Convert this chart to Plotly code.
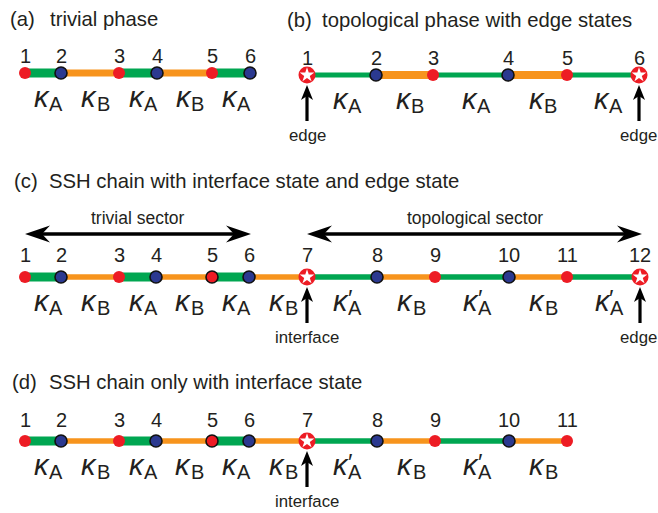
import plotly.graph_objects as go

W, H = 658, 513

# ---------------- data ----------------
# panel (a) trivial phase
a_x = [25, 61, 119, 157, 212, 250]
a_y = 73
a_num_y = 55.5
a_sites = ["R", "B", "R", "B", "R", "B"]
a_bonds = ["A", "B", "A", "B", "A"]
a_widths = {"A": 9, "B": 7}

# panel (b) topological phase
b_x = [307, 376, 433, 508, 567, 639]
b_y = 75
b_num_y = 57.5
b_sites = ["S", "B", "R", "B", "R", "S"]
b_bonds = ["A", "B", "A", "B", "A"]
b_widths = {"A": 5, "B": 8}

# panel (c) interface + edge
c_x = [25, 61, 119, 156, 212, 249, 307, 377, 435, 509, 567, 640]
c_y = 277
c_num_y = 255
c_sites = ["R", "B", "R", "B", "Ro", "B", "S", "B", "R", "B", "R", "S"]
c_bonds = ["A", "B", "A", "B", "A", "B", "Ap", "B", "Ap", "B", "Ap"]
c_widths = {"A": 9, "B": 5.5, "Ap": 5.5}

# panel (d) interface only
d_x = [25, 61, 119, 156, 212, 249, 307, 377, 435, 509, 567]
d_y = 441
d_num_y = 420
d_sites = ["R", "B", "R", "B", "Ro", "B", "S", "B", "R", "B", "R"]
d_bonds = ["A", "B", "A", "B", "A", "B", "Ap", "B", "Ap", "B"]
d_widths = {"A": 9, "B": 5.5, "Ap": 5.5}

# panel titles: (letter, letter_x, text, text_x, y)
titles = [
    ("(a)", 8, "trivial phase", 48, 19),
    ("(b)", 285, "topological phase with edge states", 320, 19.5),
    ("(c)", 12, "SSH chain with interface state and edge state", 47, 181),
    ("(d)", 10, "SSH chain only with interface state", 47, 382),
]

# pointer arrows: (panel, site index, label)
pointers = [("b", 0, "edge"), ("b", 5, "edge"),
            ("c", 6, "interface"), ("c", 11, "edge"),
            ("d", 6, "interface")]

# sector arrows: (label, first site, last site)
sectors = [("trivial sector", 0, 5), ("topological sector", 6, 11)]
sector_y = 234
sector_label_y = 217.5

# ---------------- style ----------------
GREEN = "#00A651"
ORANGE = "#F7941D"
RED = "#ED1C24"
BLUE = "#2B3990"
TXT = "#231F20"
SANS = "Liberation Sans, Arial, sans-serif"

panels = {
    "a": (a_x, a_y, a_num_y, a_sites, a_bonds, a_widths),
    "b": (b_x, b_y, b_num_y, b_sites, b_bonds, b_widths),
    "c": (c_x, c_y, c_num_y, c_sites, c_bonds, c_widths),
    "d": (d_x, d_y, d_num_y, d_sites, d_bonds, d_widths),
}

fig = go.Figure()
ann = []
shapes = []

def arrow_head(tx, ty, dx, dy, L, Wd, notch):
    # tip at (tx,ty), direction (dx,dy) unit vector pointing toward tip
    px, py = -dy, dx
    bx, by = tx - dx * L, ty - dy * L
    nx, ny = tx - dx * notch, ty - dy * notch
    p1 = (bx + px * Wd / 2, by + py * Wd / 2)
    p2 = (bx - px * Wd / 2, by - py * Wd / 2)
    return (f"M {tx},{ty} L {p1[0]},{p1[1]} L {nx},{ny} "
            f"L {p2[0]},{p2[1]} Z")

for key, (xs, cy, ny, sites, bonds, widths) in panels.items():
    # bonds
    for i, bt in enumerate(bonds):
        col = GREEN if bt in ("A", "Ap") else ORANGE
        fig.add_trace(go.Scatter(x=[xs[i], xs[i + 1]], y=[cy, cy], mode="lines",
                                 line=dict(color=col, width=widths[bt]),
                                 hoverinfo="skip", showlegend=False))
    # sites
    for typ in ["R", "B", "Ro", "S"]:
        sx = [x for x, t in zip(xs, sites) if t == typ]
        if not sx:
            continue
        sy = [cy] * len(sx)
        if typ == "R":
            m = dict(size=12, color=RED, line=dict(width=0))
        elif typ == "B":
            m = dict(size=12, color=BLUE, line=dict(width=1.6, color="#111"))
        elif typ == "Ro":
            m = dict(size=12, color=RED, line=dict(width=1.6, color="#111"))
        else:
            m = dict(size=17, color=RED, line=dict(width=0))
        fig.add_trace(go.Scatter(x=sx, y=sy, mode="markers", marker=m,
                                 hoverinfo="skip", showlegend=False))
        if typ == "S":
            fig.add_trace(go.Scatter(x=sx, y=sy, mode="markers",
                                     marker=dict(symbol="star", size=11, color="white",
                                                 line=dict(width=0)),
                                     hoverinfo="skip", showlegend=False))
    # site numbers
    for i, x in enumerate(xs):
        ann.append(dict(x=x, y=ny, text=str(i + 1), showarrow=False,
                        xanchor="center", yanchor="middle",
                        font=dict(family=SANS, size=20, color=TXT)))
    # coupling labels
    for i, bt in enumerate(bonds):
        mid = (xs[i] + xs[i + 1]) / 2
        sub = "B" if bt == "B" else "A"
        ann.append(dict(x=mid - 1, y=cy + 23.5, text="<i>κ</i>", showarrow=False,
                        xanchor="center", yanchor="middle",
                        font=dict(family=SANS, size=29, color=TXT)))
        ann.append(dict(x=mid + 13, y=cy + 31, text=sub, showarrow=False,
                        xanchor="center", yanchor="middle",
                        font=dict(family=SANS, size=20, color=TXT)))
        if bt == "Ap":
            ann.append(dict(x=mid + 8, y=cy + 21, text="′", showarrow=False,
                            xanchor="center", yanchor="middle",
                            font=dict(family=SANS, size=24, color=TXT)))

# titles
for letter, lx, text, tx, ty in titles:
    ann.append(dict(x=lx, y=ty, text=letter, showarrow=False, xanchor="left",
                    yanchor="middle", font=dict(family=SANS, size=20.3, color=TXT)))
    ann.append(dict(x=tx, y=ty, text=text, showarrow=False, xanchor="left",
                    yanchor="middle", font=dict(family=SANS, size=20.3, color=TXT)))

# pointer arrows
for key, idx, label in pointers:
    xs, cy = panels[key][0], panels[key][1]
    x = xs[idx]
    tip = cy + 10
    base = cy + 46
    shapes.append(dict(type="line", x0=x, x1=x, y0=tip + 8, y1=base,
                       line=dict(color="black", width=3.2), xref="x", yref="y"))
    shapes.append(dict(type="path", path=arrow_head(x, tip, 0, -1, 15, 12, 11),
                       fillcolor="black", line=dict(width=0), xref="x", yref="y"))
    ann.append(dict(x=min(x, W - 20), y=cy + 60, text=label, showarrow=False,
                    xanchor="center", yanchor="middle",
                    font=dict(family=SANS, size=16.8, color=TXT)))

# sector arrows
for label, i0, i1 in sectors:
    x0, x1 = c_x[i0], c_x[i1] + 2
    shapes.append(dict(type="line", x0=x0 + 15, x1=x1 - 15, y0=sector_y, y1=sector_y,
                       line=dict(color="black", width=3.5), xref="x", yref="y"))
    shapes.append(dict(type="path", path=arrow_head(x0, sector_y, -1, 0, 25, 17, 17),
                       fillcolor="black", line=dict(width=0), xref="x", yref="y"))
    shapes.append(dict(type="path", path=arrow_head(x1, sector_y, 1, 0, 25, 17, 17),
                       fillcolor="black", line=dict(width=0), xref="x", yref="y"))
    ann.append(dict(x=(x0 + x1) / 2, y=sector_label_y, text=label, showarrow=False,
                    xanchor="center", yanchor="middle",
                    font=dict(family=SANS, size=17.5, color=TXT)))

fig.update_layout(
    width=W, height=H, margin=dict(l=0, r=0, t=0, b=0),
    paper_bgcolor="white", plot_bgcolor="white",
    xaxis=dict(range=[0, W], visible=False, fixedrange=True),
    yaxis=dict(range=[H, 0], visible=False, fixedrange=True),
    annotations=ann, shapes=shapes, showlegend=False,
)
fig.write_html(
    "out.html",
    config={"displayModeBar": False},
    post_script="document.body.style.margin='0';document.body.style.overflow='hidden';",
)
